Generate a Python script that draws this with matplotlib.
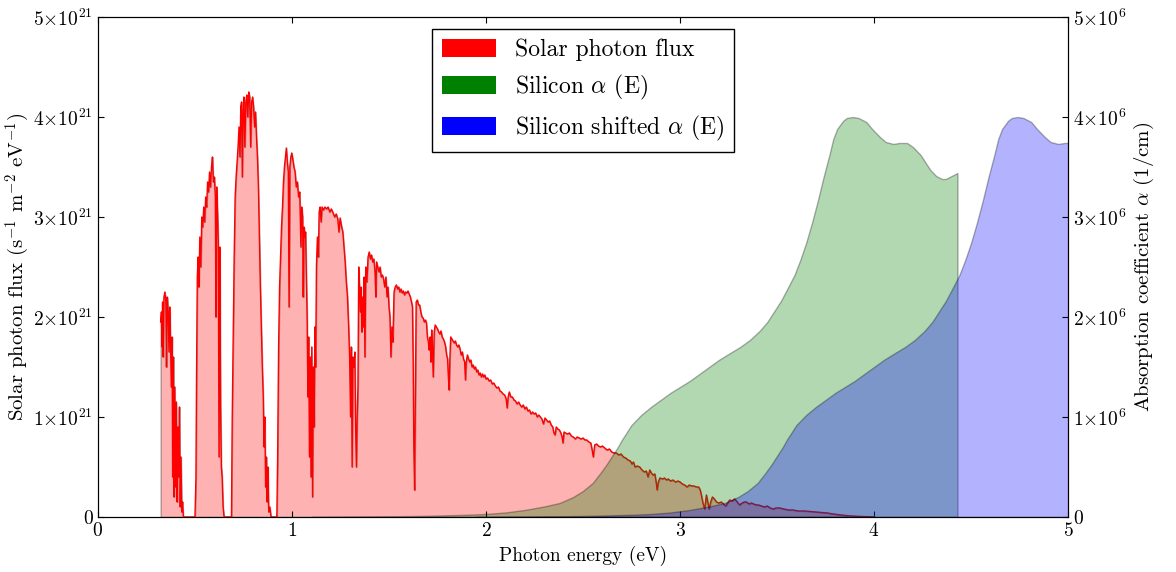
import numpy as np
import matplotlib
matplotlib.use("Agg")
import matplotlib.pyplot as plt
from matplotlib.patches import Rectangle
from matplotlib.ticker import FuncFormatter

plt.rcParams['font.family'] = ['cmr10']
plt.rcParams['mathtext.fontset'] = 'cm'
plt.rcParams['axes.formatter.use_mathtext'] = True
plt.rcParams['axes.unicode_minus'] = False

# solar photon flux (eV, 1e21 s^-1 m^-2 eV^-1)
solar_E = [
    0.323, 0.327, 0.330, 0.333, 0.336, 0.340, 0.345, 0.350, 0.353, 0.357, 0.362, 0.366, 0.370, 0.374,
    0.378, 0.382, 0.385, 0.389, 0.392, 0.396, 0.400, 0.404, 0.408, 0.412, 0.416, 0.420, 0.424, 0.428,
    0.432, 0.436, 0.440,
    0.500, 0.505, 0.508, 0.512, 0.516, 0.520, 0.525, 0.530, 0.535, 0.540, 0.545, 0.550, 0.555, 0.560,
    0.565, 0.570, 0.575, 0.580, 0.585, 0.590, 0.595, 0.600, 0.605, 0.608, 0.612, 0.617, 0.620, 0.624,
    0.628, 0.632, 0.636, 0.640, 0.645, 0.650,
    0.688, 0.692, 0.697, 0.702, 0.707, 0.712, 0.717, 0.722, 0.727, 0.732, 0.736, 0.740, 0.744, 0.748,
    0.752, 0.757, 0.762, 0.767, 0.772, 0.777, 0.782, 0.787, 0.792, 0.797, 0.802, 0.807, 0.812, 0.817,
    0.822, 0.827, 0.832, 0.837, 0.842, 0.847, 0.852, 0.856, 0.860, 0.864, 0.868, 0.872, 0.876, 0.880,
    0.886, 0.892,
    0.922, 0.926, 0.931, 0.936, 0.941, 0.946, 0.951, 0.956, 0.961, 0.966, 0.971, 0.976, 0.981, 0.985,
    0.989, 0.994, 0.999, 1.004, 1.010, 1.016, 1.022, 1.028, 1.034, 1.040, 1.046, 1.050, 1.055, 1.058,
    1.062, 1.066, 1.070, 1.074, 1.078, 1.082, 1.086, 1.090, 1.094, 1.098, 1.102, 1.106, 1.110, 1.114,
    1.118, 1.122, 1.126, 1.131, 1.136, 1.140, 1.145, 1.150, 1.155, 1.162, 1.170, 1.178, 1.186, 1.195,
    1.203, 1.212, 1.220, 1.228, 1.236, 1.242, 1.248, 1.256, 1.262, 1.268, 1.274, 1.280, 1.286, 1.292,
    1.297, 1.302, 1.306, 1.310, 1.314, 1.319, 1.324, 1.328, 1.332, 1.336, 1.340,
    1.344, 1.348, 1.352, 1.356, 1.360, 1.364, 1.368, 1.372, 1.376, 1.380, 1.386, 1.392, 1.398, 1.404,
    1.410, 1.416, 1.422, 1.428, 1.432, 1.436, 1.442, 1.448, 1.454, 1.460, 1.466, 1.472, 1.478, 1.484,
    1.490, 1.495, 1.500, 1.505, 1.510, 1.515, 1.520, 1.526, 1.532, 1.538, 1.544, 1.550, 1.556, 1.562,
    1.568, 1.574, 1.580, 1.586, 1.592, 1.598, 1.604, 1.610, 1.616, 1.621, 1.625, 1.628, 1.632, 1.636,
    1.640, 1.646, 1.652, 1.658, 1.664, 1.670, 1.676, 1.682, 1.688, 1.693, 1.698, 1.703, 1.707, 1.712,
    1.716, 1.720, 1.724, 1.728, 1.733, 1.738, 1.744, 1.750, 1.756, 1.762, 1.768, 1.774, 1.780, 1.786,
    1.792, 1.797, 1.802, 1.806, 1.810, 1.814, 1.818, 1.824, 1.830, 1.836, 1.842, 1.848, 1.854, 1.860,
    1.866, 1.872, 1.878, 1.884, 1.890, 1.894, 1.898, 1.904, 1.910, 1.916, 1.922, 1.928, 1.934, 1.940,
    1.946, 1.952, 1.958, 1.964, 1.970, 1.976, 1.982, 1.988, 1.994, 2.000, 2.008, 2.016, 2.024, 2.032,
    2.040, 2.048, 2.056, 2.064, 2.072, 2.080, 2.088, 2.096, 2.104, 2.109, 2.114, 2.120, 2.128, 2.136,
    2.144, 2.152, 2.160, 2.168, 2.176, 2.184, 2.192, 2.200, 2.208, 2.216, 2.224, 2.232, 2.240, 2.248,
    2.256, 2.264, 2.272, 2.280, 2.288, 2.296, 2.304, 2.312, 2.320, 2.328, 2.336, 2.344, 2.350, 2.356,
    2.362, 2.370, 2.378, 2.386, 2.392, 2.397, 2.402, 2.410, 2.420, 2.430, 2.440, 2.450, 2.460, 2.470,
    2.480, 2.490, 2.500, 2.510, 2.520, 2.530, 2.540, 2.548, 2.553, 2.560, 2.570, 2.580, 2.590, 2.600,
    2.612, 2.624, 2.636, 2.648, 2.660, 2.672, 2.684, 2.696, 2.708, 2.720, 2.732, 2.744, 2.752, 2.760,
    2.768, 2.780, 2.792, 2.804, 2.816, 2.826, 2.835, 2.844, 2.852, 2.861, 2.870, 2.877, 2.882, 2.888,
    2.896, 2.910, 2.920, 2.930, 2.940, 2.950, 2.964, 2.976, 2.990, 3.000, 3.012, 3.024, 3.036, 3.048,
    3.060, 3.072, 3.084, 3.096, 3.104, 3.110, 3.118, 3.127, 3.136, 3.143, 3.150, 3.158, 3.167, 3.177,
    3.188, 3.200, 3.213, 3.224, 3.235, 3.246, 3.256, 3.268, 3.282, 3.295, 3.307, 3.320, 3.332, 3.342,
    3.356, 3.368, 3.380, 3.392, 3.405, 3.420, 3.435, 3.450, 3.465, 3.480, 3.495, 3.514, 3.535, 3.560,
    3.582, 3.610, 3.640, 3.670, 3.700, 3.730, 3.760, 3.790, 3.830, 3.870, 3.920, 3.970, 4.000,
]
solar_flux = [
    1.95, 2.05, 1.70, 2.15, 1.60, 2.20, 2.25, 2.15, 1.50, 2.20, 2.05, 1.65, 2.10, 1.75,
    1.30, 1.80, 0.40, 1.60, 0.20, 1.30, 0.30, 1.15, 0.15, 0.90, 0.40, 1.10, 0.10, 0.60,
    0.05, 0.15, 0.00,
    0.00, 0.40, 1.40, 2.40, 2.60, 2.30, 2.80, 2.50, 3.00, 2.90, 3.10, 2.95, 3.20, 3.10,
    3.35, 3.25, 3.45, 3.30, 3.50, 3.60, 3.35, 3.40, 3.20, 2.00, 3.30, 3.00, 2.75, 0.60,
    2.70, 1.10, 0.50, 0.40, 0.10, 0.00,
    0.00, 1.00, 1.80, 2.60, 3.20, 3.40, 3.55, 3.70, 3.90, 3.60, 4.10, 4.15, 3.40, 4.05,
    4.20, 3.70, 4.15, 4.22, 4.00, 4.25, 4.20, 3.70, 4.15, 4.20, 4.10, 3.90, 4.05, 3.80,
    3.60, 3.30, 2.80, 2.30, 1.90, 1.50, 1.20, 0.70, 1.00, 0.30, 0.60, 0.15, 0.50, 0.05,
    0.10, 0.00,
    0.00, 0.60, 1.70, 2.30, 2.60, 2.90, 3.10, 3.35, 3.50, 3.60, 3.69, 3.55, 3.45, 2.10,
    3.50, 3.60, 3.64, 3.58, 3.50, 3.45, 3.30, 3.35, 3.20, 3.25, 2.70, 3.10, 3.00, 2.20,
    2.90, 2.80, 2.85, 2.40, 2.00, 1.20, 1.80, 0.60, 1.60, 0.40, 1.70, 0.20, 1.50, 0.90,
    1.90, 1.50, 2.50, 2.80, 2.60, 3.05, 3.10, 2.95, 3.10, 3.07, 3.10, 3.08, 3.10, 3.05,
    3.08, 3.04, 3.00, 3.03, 2.98, 2.85, 2.99, 2.90, 2.85, 2.70, 2.55, 2.35, 2.20, 1.90,
    1.60, 1.00, 1.70, 0.50, 1.60, 1.50, 1.65, 0.90, 0.50, 1.00, 1.30,
    2.50, 2.30, 2.05, 2.30, 1.85, 2.20, 1.90, 2.40, 1.60, 2.50, 2.35, 2.60, 2.65, 2.58,
    2.62, 2.55, 2.58, 2.45, 2.20, 2.55, 2.50, 2.45, 2.50, 2.40, 2.42, 2.38, 2.30, 2.40,
    2.20, 2.30, 2.10, 2.00, 1.60, 1.90, 1.75, 2.25, 2.30, 2.32, 2.28, 2.30, 2.25, 2.28,
    2.24, 2.26, 2.22, 2.25, 2.24, 2.26, 2.23, 2.20, 2.15, 2.10, 1.50, 0.70, 0.27, 1.20,
    2.15, 2.17, 2.12, 2.12, 2.05, 2.00, 1.99, 1.95, 1.97, 1.94, 1.80, 1.75, 1.67, 1.80,
    1.55, 1.87, 1.70, 1.40, 1.85, 1.92, 1.90, 1.88, 1.85, 1.83, 1.86, 1.80, 1.78, 1.75,
    1.70, 1.62, 1.58, 1.40, 1.27, 1.60, 1.80, 1.78, 1.76, 1.74, 1.76, 1.72, 1.70, 1.72,
    1.68, 1.62, 1.65, 1.58, 1.55, 1.37, 1.55, 1.62, 1.58, 1.55, 1.57, 1.50, 1.52, 1.48,
    1.50, 1.45, 1.47, 1.42, 1.44, 1.40, 1.43, 1.40, 1.42, 1.38, 1.39, 1.36, 1.37, 1.33,
    1.34, 1.31, 1.29, 1.30, 1.26, 1.25, 1.23, 1.22, 1.18, 1.09, 1.20, 1.25, 1.20, 1.20,
    1.17, 1.16, 1.13, 1.15, 1.12, 1.10, 1.12, 1.08, 1.10, 1.06, 1.07, 1.03, 1.05, 1.03,
    1.04, 1.00, 1.02, 1.00, 0.98, 0.93, 0.99, 0.97, 0.95, 0.96, 0.92, 0.90, 0.84, 0.82,
    0.90, 0.88, 0.87, 0.84, 0.80, 0.74, 0.85, 0.84, 0.83, 0.84, 0.81, 0.80, 0.78, 0.80,
    0.79, 0.78, 0.79, 0.77, 0.77, 0.75, 0.74, 0.66, 0.60, 0.72, 0.73, 0.71, 0.70, 0.71,
    0.69, 0.67, 0.68, 0.65, 0.64, 0.64, 0.62, 0.63, 0.60, 0.59, 0.57, 0.56, 0.53, 0.55,
    0.50, 0.51, 0.50, 0.47, 0.45, 0.46, 0.40, 0.47, 0.44, 0.42, 0.43, 0.35, 0.27, 0.35,
    0.39, 0.38, 0.39, 0.37, 0.38, 0.36, 0.37, 0.35, 0.36, 0.35, 0.33, 0.32, 0.30, 0.32,
    0.31, 0.31, 0.30, 0.30, 0.27, 0.22, 0.14, 0.08, 0.22, 0.15, 0.08, 0.15, 0.20, 0.18,
    0.15, 0.14, 0.15, 0.13, 0.11, 0.14, 0.17, 0.16, 0.18, 0.15, 0.12, 0.14, 0.15, 0.15,
    0.13, 0.14, 0.13, 0.12, 0.12, 0.11, 0.10, 0.11, 0.09, 0.08, 0.09, 0.09, 0.08, 0.07,
    0.07, 0.06, 0.06, 0.055, 0.05, 0.045, 0.04, 0.03, 0.02, 0.012, 0.006, 0.002, 0.0,
]

# silicon absorption coefficient (eV, 1e6 1/cm)
si_E = [1.10, 1.30, 1.50, 1.70, 1.90, 2.00, 2.10, 2.20, 2.30, 2.38, 2.45, 2.50, 2.55, 2.59,
        2.62, 2.65, 2.68, 2.70, 2.73, 2.75, 2.78, 2.80, 2.85, 2.90, 2.95, 3.00, 3.05, 3.10,
        3.15, 3.20, 3.25, 3.31, 3.36, 3.41, 3.45, 3.48, 3.52, 3.55, 3.59, 3.62, 3.65, 3.68,
        3.71, 3.74, 3.77, 3.79, 3.81, 3.84, 3.86, 3.89, 3.92, 3.96, 3.99, 4.03, 4.06, 4.10,
        4.13, 4.17, 4.20, 4.24, 4.27, 4.29, 4.32, 4.35, 4.37, 4.39, 4.41, 4.43]
si_alpha = [0.0, 0.003, 0.006, 0.012, 0.022, 0.03, 0.045, 0.07, 0.105, 0.14, 0.20, 0.26, 0.34, 0.44,
            0.52, 0.61, 0.70, 0.77, 0.86, 0.92, 0.98, 1.02, 1.10, 1.17, 1.24, 1.30, 1.36, 1.43,
            1.50, 1.57, 1.63, 1.70, 1.77, 1.86, 1.95, 2.04, 2.16, 2.27, 2.42, 2.57, 2.74, 2.94,
            3.16, 3.40, 3.62, 3.78, 3.88, 3.96, 3.99, 4.00, 3.99, 3.95, 3.88, 3.80, 3.75, 3.73,
            3.74, 3.74, 3.70, 3.62, 3.53, 3.47, 3.41, 3.38, 3.38, 3.40, 3.42, 3.44]
shift = 0.85  # eV

E = np.array(solar_E)
flux = np.array(solar_flux) * 1e21
sE = np.array(si_E)
alpha = np.array(si_alpha) * 1e6


def sci(exp):
    def f(v, pos):
        if v == 0:
            return '0'
        return r'$%d{\times}10^{%d}$' % (round(v / 10**exp), exp)
    return FuncFormatter(f)


fig = plt.figure(figsize=(11.76, 5.72), dpi=100)
ax1 = fig.add_axes([0.0833, 0.0962, 0.8249, 0.8741])
ax1.fill_between(E, 0, flux, facecolor='r', edgecolor='k', alpha=0.3, lw=1)
ax1.plot(E, flux, color='r', lw=1)
ax1.set_xlim(0, 5)
ax1.set_ylim(0, 5e21)
ax1.set_xticks(range(6))
ax1.set_yticks(np.arange(6) * 1e21)
ax1.yaxis.set_major_formatter(sci(21))
ax1.set_xlabel('Photon energy (eV)', fontsize=14)
ax1.set_ylabel(r'Solar photon flux (s$^{-1}$ m$^{-2}$ eV$^{-1}$)', fontsize=15, labelpad=1)
ax1.tick_params(direction='in', length=4, labelsize=14, top=True)

ax2 = ax1.twinx()
ax2.fill_between(sE, 0, alpha, facecolor='g', edgecolor='k', alpha=0.3, lw=1)
ax2.fill_between(sE + shift, 0, alpha, facecolor='b', edgecolor='k', alpha=0.3, lw=1)
ax2.set_xlim(0, 5)
ax2.set_ylim(0, 5e6)
ax2.set_yticks(np.arange(6) * 1e6)
ax2.yaxis.set_major_formatter(sci(6))
ax2.set_ylabel(r'Absorption coefficient $\alpha$ (1/cm)', fontsize=15)
ax2.tick_params(direction='in', length=4, labelsize=14)

handles = [Rectangle((0, 0), 1, 1, fc='r', ec='none'),
           Rectangle((0, 0), 1, 1, fc='g', ec='none'),
           Rectangle((0, 0), 1, 1, fc='b', ec='none')]
labels = ['Solar photon flux', r'Silicon $\alpha$ (E)', r'Silicon shifted $\alpha$ (E)']
leg = ax2.legend(handles, labels, loc='upper center', fontsize=17, fancybox=False,
                 edgecolor='k', framealpha=1, handlelength=2.3, handleheight=0.8,
                 labelspacing=0.5, borderpad=0.4, handletextpad=0.8)
leg.get_frame().set_linewidth(1)

fig.savefig('out.png', dpi=100)
